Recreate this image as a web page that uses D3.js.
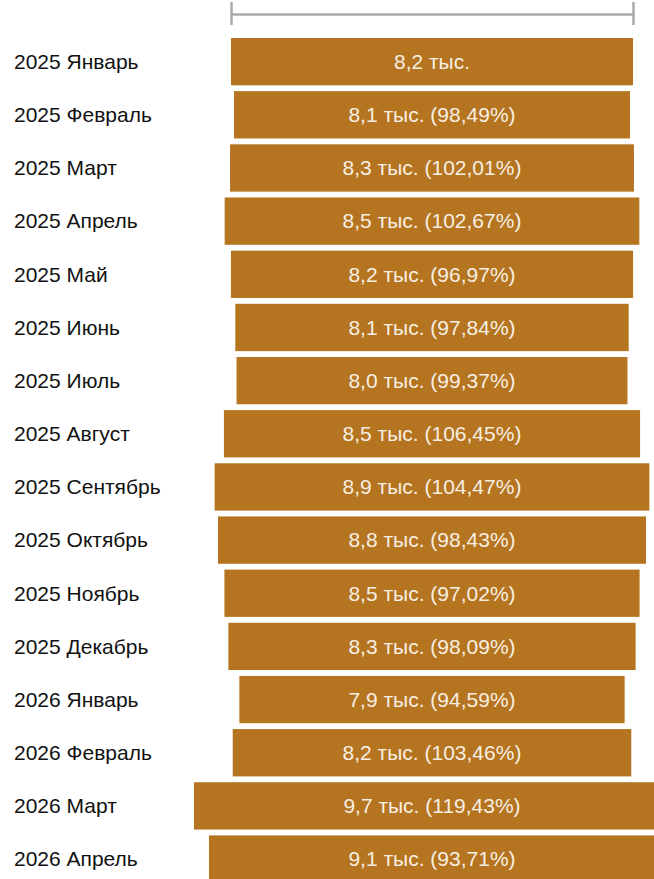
<!DOCTYPE html>
<html>
<head>
<meta charset="utf-8">
<script src="https://cdn.jsdelivr.net/npm/d3@7"></script>
<style>
  html, body { margin: 0; padding: 0; background: #fff; overflow: hidden; }
</style>
</head>
<body>
<div id="viz"></div>
<script>
const months = ['2025 Январь', '2025 Февраль', '2025 Март', '2025 Апрель', '2025 Май', '2025 Июнь',
    '2025 Июль', '2025 Август', '2025 Сентябрь', '2025 Октябрь', '2025 Ноябрь', '2025 Декабрь',
    '2026 Январь', '2026 Февраль', '2026 Март', '2026 Апрель'];
// thousands
const values = [8.23, 8.106, 8.269, 8.489, 8.232, 8.054, 8.003, 8.520, 8.900, 8.761, 8.500, 8.337,
    7.887, 8.160, 9.746, 9.132];
// change vs previous month, %
const pcts = [null, '98,49', '102,01', '102,67', '96,97', '97,84', '99,37', '106,45', '104,47',
    '98,43', '97,02', '98,09', '94,59', '103,46', '119,43', '93,71'];

const width = 654, height = 879, cx = 432;
const barColor = '#b57420';

let wScale = d3.scaleLinear()
                .domain([0, d3.max(values)])
                .range([0, d3.max(values) * 402 / values[0]]);

let yScale = d3.scaleBand()
                .domain(months)
                .paddingInner(.11)
                .paddingOuter(0)
                .range([38, 38 + 53.16 * (months.length - .11)]);

const svg = d3.select('#viz')
    .append('svg')
    .attr('width', width)
    .attr('height', height)
    .style('font-family', '"Liberation Sans", Arial, sans-serif');

// top axis spanning the first month
let axisScale = d3.scaleLinear()
                .domain([0, values[0]])
                .range([cx - wScale(values[0]) / 2, cx + wScale(values[0]) / 2]);

const axisG = svg.append('g')
    .attr('transform', 'translate(0,14)')
    .call(d3.axisTop(axisScale).tickValues([0, values[0]]).tickSizeOuter(0).tickFormat(''));
axisG.select('.domain').attr('stroke', '#aaa').attr('stroke-width', 2.5);
axisG.selectAll('.tick line').attr('stroke', '#aaa').attr('stroke-width', 2.5)
    .attr('y1', -12).attr('y2', 11);

const rows = svg.selectAll('g.row').data(months)
    .enter()
    .append('g')
    .attr('class', 'row');

rows.append('rect')
    .attr('fill', barColor)
    .attr('x', (d, i) => cx - wScale(values[i]) / 2)
    .attr('y', (d) => yScale(d))
    .attr('width', (d, i) => wScale(values[i]))
    .attr('height', yScale.bandwidth());

rows.append('text')
    .attr('x', 14)
    .attr('y', (d) => yScale(d) + yScale.bandwidth() / 2)
    .attr('dy', '0.35em')
    .attr('font-size', 21)
    .attr('fill', '#111')
    .text((d) => d);

rows.append('text')
    .attr('x', cx)
    .attr('y', (d) => yScale(d) + yScale.bandwidth() / 2)
    .attr('dy', '0.35em')
    .attr('text-anchor', 'middle')
    .attr('font-size', 21)
    .attr('fill', '#f7efe2')
    .text((d, i) => {
        let s = values[i].toFixed(1).replace('.', ',') + ' тыс.';
        return pcts[i] ? s + ' (' + pcts[i] + '%)' : s;
    });
</script>
</body>
</html>
